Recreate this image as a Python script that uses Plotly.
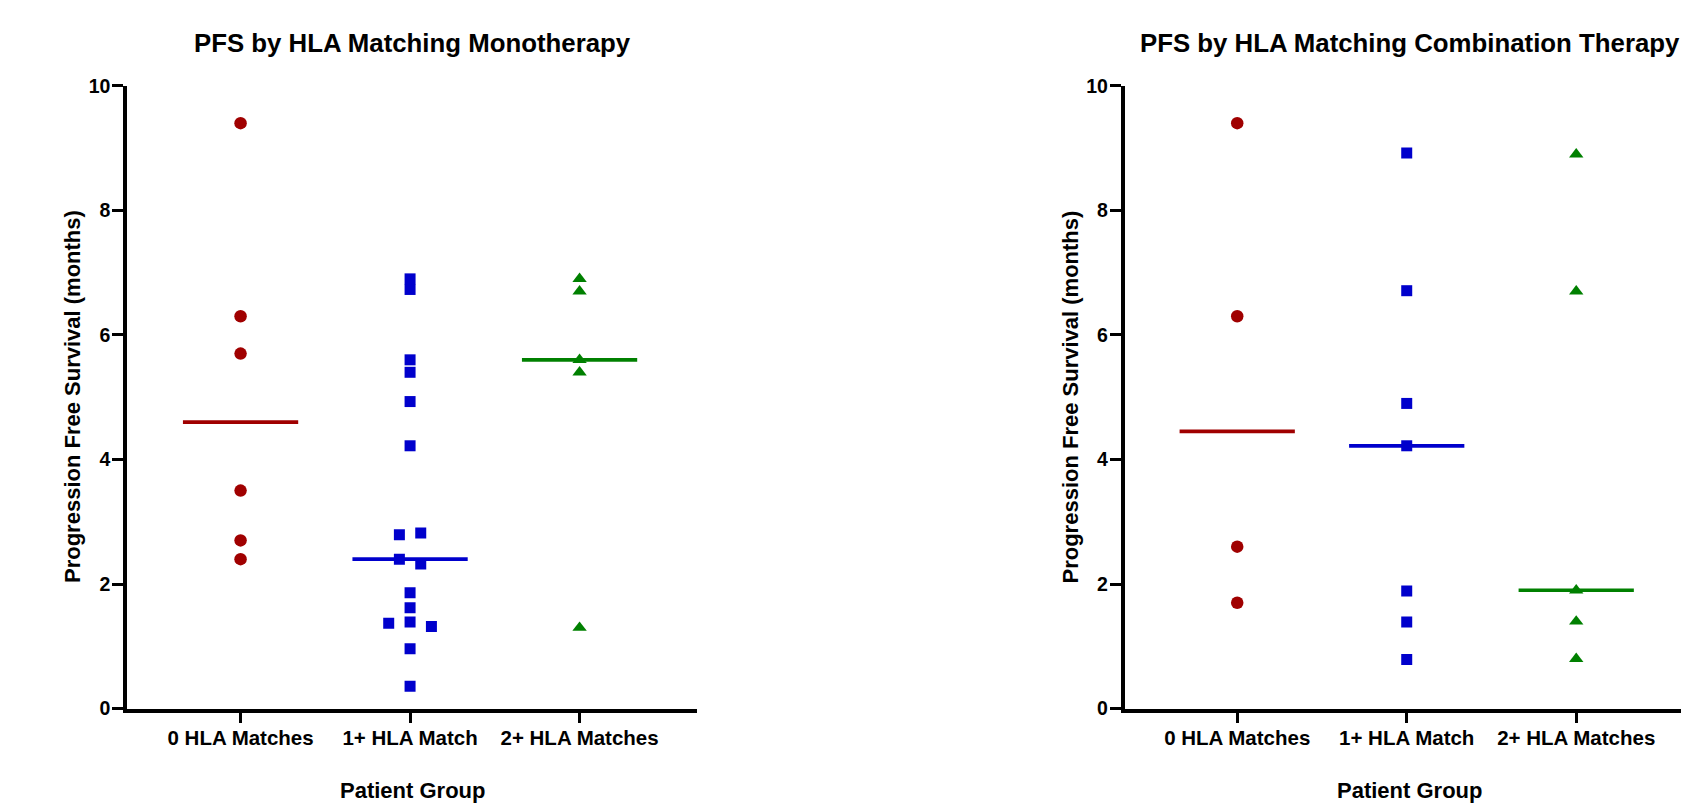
import numpy as np
import plotly.graph_objects as go

# ---------------- data ----------------
categories = ["0 HLA Matches", "1+ HLA Match", "2+ HLA Matches"]
y_ticks = [0, 2, 4, 6, 8, 10]

mono_0 = [9.4, 6.3, 5.7, 3.5, 2.7, 2.4]
mono_1 = [6.9, 6.73, 5.6, 5.4, 4.93, 4.22, 2.79, 2.82, 2.4, 2.32, 1.86, 1.62, 1.37, 1.39, 1.32, 0.96, 0.36]
mono_1_jitter = [0, 0, 0, 0, 0, 0, -0.063, 0.063, -0.063, 0.063, 0, 0, -0.126, 0, 0.126, 0, 0]
mono_2 = [6.9, 6.7, 5.6, 5.4, 1.3]

combo_0 = [9.4, 6.3, 2.6, 1.7]
combo_1 = [8.92, 6.71, 4.9, 4.22, 1.89, 1.39, 0.79]
combo_2 = [8.9, 6.7, 1.9, 1.4, 0.8]

titles = ["PFS by HLA Matching Monotherapy", "PFS by HLA Matching Combination Therapy"]
y_title = "Progression Free Survival (months)"
x_title = "Patient Group"

# ---------------- style ----------------
colors = ["#A00000", "#0000CC", "#008000"]
symbols = ["circle", "square", "triangle-up"]
sizes = [12.5, 11, 12.5]
FONT = "Liberation Sans, Arial, Helvetica, sans-serif"
W, H = 1681, 804

fig = go.Figure()

panels = [
    dict(groups=[mono_0, mono_1, mono_2], jitters=[None, mono_1_jitter, None], xa="x", ya="y"),
    dict(groups=[combo_0, combo_1, combo_2], jitters=[None, None, None], xa="x2", ya="y2"),
]

for p in panels:
    # median lines first (beneath markers)
    for i, vals in enumerate(p["groups"]):
        med = float(np.median(vals))
        fig.add_trace(go.Scatter(
            x=[i - 0.34, i + 0.34], y=[med, med],
            mode="lines", line=dict(color=colors[i], width=3.7),
            xaxis=p["xa"], yaxis=p["ya"], showlegend=False, hoverinfo="skip",
        ))
    for i, vals in enumerate(p["groups"]):
        jit = p["jitters"][i] or [0] * len(vals)
        fig.add_trace(go.Scatter(
            x=[i + j for j in jit], y=vals, mode="markers",
            marker=dict(color=colors[i], symbol=symbols[i], size=sizes[i], line=dict(width=0)),
            xaxis=p["xa"], yaxis=p["ya"], showlegend=False,
        ))

# ---------------- layout ----------------
y_top_px, y_bot_px = 85.8, 708.6
ax1_left, ax1_right = 127, 697
ax2_left = 1124.5
px_per_cat = 169.5

y_dom = [(H - y_bot_px) / H, (H - y_top_px) / H]
x1_dom = [ax1_left / W, ax1_right / W]
x2_dom = [ax2_left / W, 1.0]

axis_common = dict(
    showline=True, linewidth=3.5, linecolor="black",
    ticks="outside", ticklen=11, tickwidth=3, tickcolor="black",
    showgrid=False, zeroline=False, automargin=False,
)

xaxis_common = dict(
    axis_common,
    tickvals=[0, 1, 2], ticktext=categories, ticklabelstandoff=-3,
    tickfont=dict(family=FONT, size=20.5, color="black", weight="bold"),
)
yaxis_common = dict(
    axis_common,
    range=[0, 10], tickvals=y_ticks, ticklabelstandoff=-2,
    tickfont=dict(family=FONT, size=19.5, color="black", weight="bold"),
)

fig.update_layout(
    template="none",
    width=W, height=H,
    margin=dict(l=0, r=0, t=0, b=0, pad=0),
    paper_bgcolor="white", plot_bgcolor="white",
    xaxis=dict(xaxis_common, domain=x1_dom,
               range=[-0.67, -0.67 + (ax1_right - ax1_left) / px_per_cat], anchor="y"),
    yaxis=dict(yaxis_common, domain=y_dom, anchor="x"),
    xaxis2=dict(xaxis_common, domain=x2_dom,
                range=[-0.665, -0.665 + (W - ax2_left) / px_per_cat], anchor="y2"),
    yaxis2=dict(yaxis_common, domain=y_dom, anchor="x2"),
)

annots = []
axis_x = [ax1_left, ax2_left]
centers = [a + 285 for a in axis_x]
for k in range(2):
    annots.append(dict(
        text=titles[k], x=centers[k] / W, y=1 - 43 / H, xref="paper", yref="paper",
        xanchor="center", yanchor="middle", showarrow=False,
        font=dict(family=FONT, size=25.8, color="black", weight="bold"),
    ))
    annots.append(dict(
        text=x_title, x=centers[k] / W, y=1 - 790.5 / H, xref="paper", yref="paper",
        xanchor="center", yanchor="middle", showarrow=False,
        font=dict(family=FONT, size=22, color="black", weight="bold"),
    ))
    annots.append(dict(
        text=y_title, x=(axis_x[k] - 55) / W, y=1 - 397 / H, xref="paper", yref="paper",
        xanchor="center", yanchor="middle", showarrow=False, textangle=-90,
        font=dict(family=FONT, size=22, color="black", weight="bold"),
    ))
fig.update_layout(annotations=annots)

fig.write_html(
    "out.html",
    config={"displayModeBar": False},
    post_script=(
        "document.documentElement.style.margin='0';"
        "document.documentElement.style.overflow='hidden';"
        "document.body.style.margin='0';"
        "document.body.style.overflow='hidden';"
    ),
)
